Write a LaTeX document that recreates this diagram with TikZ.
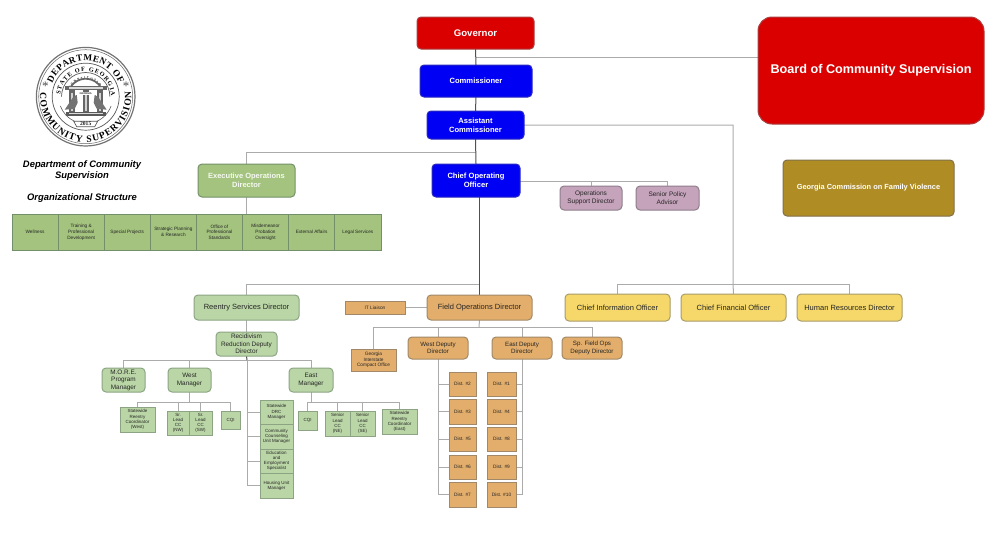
\documentclass[tikz,border=0pt]{standalone}
\usepackage{fontspec}
\setmainfont{Liberation Sans}
\newfontfamily\sealfont{Liberation Serif}
\usetikzlibrary{decorations.text}
\pgfdeclarelayer{wires}
\pgfsetlayers{wires,main}
\definecolor{cred}{HTML}{DA0000}
\definecolor{credb}{HTML}{A84040}
\definecolor{cblue}{HTML}{0000F5}
\definecolor{cblueb}{HTML}{2A2AC0}
\definecolor{cmid}{HTML}{A3C37E}
\definecolor{cmidb}{HTML}{74906A}
\definecolor{clt}{HTML}{BAD6A6}
\definecolor{cltb}{HTML}{8CA484}
\definecolor{cora}{HTML}{E3AE6B}
\definecolor{corab}{HTML}{A08868}
\definecolor{cyel}{HTML}{F5D869}
\definecolor{cyelb}{HTML}{A89C68}
\definecolor{cpur}{HTML}{C5A3BB}
\definecolor{cpurb}{HTML}{8E7E8A}
\definecolor{cgold}{HTML}{B08D24}
\definecolor{cgoldb}{HTML}{80704A}
\definecolor{cline}{HTML}{ABABAB}
\definecolor{cdark}{HTML}{505050}
\newcommand{\bx}[7][]{\node[#1,minimum width={(#4-#2)*1pt},minimum height={(#5-#3)*1pt}] (#6) at ({(#2+#4)/2},{(#3+#5)/2}) {#7};}
\tikzset{
  x=1pt,y=-1pt,
  basebox/.style={draw,line width=1pt,inner sep=0pt,outer sep=0pt,align=center,text=black!85},
  rnd/.style={basebox,rounded corners=4pt},
  redbox/.style={rnd,fill=cred,draw=credb,text=white,font=\fontsize{9.6}{11}\selectfont\bfseries},
  bluebox/.style={rnd,fill=cblue,draw=cblueb,text=white,font=\fontsize{7.6}{9}\selectfont\bfseries},
  execbox/.style={rnd,fill=cmid,draw=cmidb,text=white!90!cmid,font=\fontsize{7.5}{9}\selectfont\bfseries},
  stripbox/.style={basebox,fill=cmid,draw=cmidb,font=\fontsize{4.7}{5.9}\selectfont},
  ltbig/.style={rnd,fill=clt,draw=cltb,font=\fontsize{7.5}{8}\selectfont},
  ltmid/.style={rnd,fill=clt,draw=cltb,font=\fontsize{6.4}{7.5}\selectfont},
  ltsq/.style={basebox,fill=clt,draw=cltb,font=\fontsize{4.5}{5.2}\selectfont},
  orbig/.style={rnd,fill=cora,draw=corab,font=\fontsize{7.5}{8}\selectfont},
  ormid/.style={rnd,fill=cora,draw=corab,font=\fontsize{6.2}{7.5}\selectfont},
  orsq/.style={basebox,fill=cora,draw=corab,font=\fontsize{4.8}{5.4}\selectfont},
  yelbox/.style={rnd,fill=cyel,draw=cyelb,font=\fontsize{7.5}{9}\selectfont},
  purbox/.style={rnd,fill=cpur,draw=cpurb,font=\fontsize{6.5}{7.6}\selectfont},
  goldbox/.style={rnd,fill=cgold,draw=cgoldb,text=white,font=\fontsize{7.4}{9}\selectfont\bfseries},
  titletext/.style={inner sep=0pt,align=center,font=\fontsize{9.4}{11.6}\selectfont\bfseries\itshape},
  conn/.style={draw=cline,line width=1pt},
  spine/.style={draw=cdark,line width=1pt}
}
\begin{document}
\begin{tikzpicture}
\useasboundingbox (0,0) rectangle (1000,544);
% heights of the bus bars
\coordinate (busA) at (476,152);
\coordinate (busB) at (479,284);
\coordinate (busC) at (733,284);
\coordinate (busD) at (247,360);
\coordinate (busW) at (189.5,402);
\coordinate (busE) at (311,402);
\coordinate (busF) at (479,327);
\coordinate (busP) at (591,181);
\coordinate (bendA) at (733,125);
\coordinate (busG) at (476,57);

% boxes
\bx[redbox]{417}{17}{534}{49}{gov}{Governor}
\bx[bluebox]{420}{65}{532}{97}{comm}{Commissioner}
\bx[bluebox]{427}{111}{524}{139}{asst}{Assistant\\Commissioner}
\node[rnd,fill=cred,draw=credb,text=white,font=\fontsize{12.65}{14}\selectfont\bfseries,rounded corners=14pt,minimum width=226pt,minimum height=107pt] (board) at (871,70.5) {Board of Community Supervision};
\bx[execbox]{198}{164}{295}{197}{exec}{Executive Operations\\Director}
\bx[bluebox]{432}{164}{520}{197}{coo}{Chief Operating\\Officer}
\bx[purbox]{560}{186}{622}{210}{ops}{Operations\\Support Director}
\bx[purbox]{636}{186}{699}{210}{pol}{Senior Policy\\Advisor}
\bx[goldbox]{783}{160}{954}{216}{gcfv}{Georgia Commission on Family Violence}

\bx[stripbox]{12}{214}{58.1}{250.5}{s1}{Wellness}
\bx[stripbox]{58.1}{214}{104.2}{250.5}{s2}{Training \&\\Professional\\Development}
\bx[stripbox]{104.2}{214}{150.3}{250.5}{s3}{Special Projects}
\bx[stripbox]{150.3}{214}{196.4}{250.5}{s4}{Strategic Planning\\\& Research}
\bx[stripbox]{196.4}{214}{242.5}{250.5}{s5}{Office of\\Professional\\Standards}
\bx[stripbox]{242.5}{214}{288.6}{250.5}{s6}{Misdemeanor\\Probation\\Oversight}
\bx[stripbox]{288.6}{214}{334.7}{250.5}{s7}{External Affairs}
\bx[stripbox]{334.7}{214}{381}{250.5}{s8}{Legal Services}

\node[titletext] (title1) at (82,170.5) {Department of Community\\Supervision};
\node[titletext] (title2) at (82,198.5) {Organizational Structure};

\bx[ltbig]{194}{295}{299}{320}{reentry}{Reentry Services Director}
\bx[ltmid]{216}{332}{277}{356}{recid}{Recidivism\\Reduction Deputy\\Director}
\bx[ltmid]{102}{368}{145}{392}{more}{M.O.R.E.\\Program\\Manager}
\bx[ltmid]{168}{368}{211}{392}{wmgr}{West\\Manager}
\bx[ltmid]{289}{368}{333}{392}{emgr}{East\\Manager}
\bx[ltsq]{120}{407}{155}{432}{wrc}{Statewide\\Reentry\\Coordinator\\(West)}
\bx[ltsq]{167}{411}{189}{435}{nw}{Sr.\\Lead\\CC\\(NW)}
\bx[ltsq]{189}{411}{212}{435}{sw}{Sr.\\Lead\\CC\\(SW)}
\bx[ltsq]{221}{411}{240}{429}{wcqi}{CQI}
\bx[ltsq]{260}{400}{293}{424}{drc}{Statewide\\DRC\\Manager}
\bx[ltsq]{260}{424}{293}{449}{ccu}{Community\\Counseling\\Unit Manager}
\bx[ltsq]{260}{449}{293}{473}{edu}{Education\\and\\Employment\\Specialist}
\bx[ltsq]{260}{473}{293}{498}{hou}{Housing Unit\\Manager}
\bx[ltsq]{298}{411}{317}{430}{ecqi}{CQI}
\bx[ltsq]{325}{411}{350}{436}{ne}{Senior\\Lead\\CC\\(NE)}
\bx[ltsq]{350}{411}{375}{436}{se}{Senior\\Lead\\CC\\(SE)}
\bx[ltsq]{382}{409}{417}{434}{erc}{Statewide\\Reentry\\Coordinator\\(East)}

\bx[orsq]{345}{301}{405}{314}{it}{IT Liaison}
\bx[orbig]{427}{295}{532}{320}{field}{Field Operations Director}
\bx[orsq]{351}{349}{396}{371}{gicp}{Georgia\\Interstate\\Compact Office}
\bx[ormid]{408}{337}{468}{359}{wdep}{West Deputy\\Director}
\bx[ormid]{492}{337}{552}{359}{edep}{East Deputy\\Director}
\bx[ormid]{562}{337}{622}{359}{spd}{Sp. Field Ops\\Deputy Director}
\bx[orsq]{449}{372}{476}{396}{d2}{Dist. \#2}
\bx[orsq]{449}{399}{476}{424}{d3}{Dist. \#3}
\bx[orsq]{449}{427}{476}{451}{d5}{Dist. \#5}
\bx[orsq]{449}{455}{476}{479}{d6}{Dist. \#6}
\bx[orsq]{449}{482}{476}{507}{d7}{Dist. \#7}
\bx[orsq]{487}{372}{516}{396}{d1}{Dist. \#1}
\bx[orsq]{487}{399}{516}{424}{d4}{Dist. \#4}
\bx[orsq]{487}{427}{516}{451}{d8}{Dist. \#8}
\bx[orsq]{487}{455}{516}{479}{d9}{Dist. \#9}
\bx[orsq]{487}{482}{516}{507}{d10}{Dist. \#10}

\bx[yelbox]{565}{294}{670}{321}{cio}{Chief Information Officer}
\bx[yelbox]{681}{294}{786}{321}{cfo}{Chief Financial Officer}
\bx[yelbox]{797}{294}{902}{321}{hr}{Human Resources Director}

% connectors, drawn beneath the boxes
\begin{pgfonlayer}{wires}
\draw[conn] (busG) -- (board.west |- busG);
\draw[conn] (asst.east |- bendA) -- (bendA) -- (busC) -- (cfo.north);
\draw[conn] (exec.north) -- (exec.north |- busA) -- (busA);
\draw[conn] (exec.south) -- (exec.south |- s6.north);
\draw[conn] (coo.east |- busP) -- (pol.north |- busP) -- (pol.north);
\draw[conn] (ops.north) -- (ops.north |- busP);
\draw[conn] (reentry.north) -- (reentry.north |- busB) -- (busB);
\draw[conn] (cio.north) -- (cio.north |- busC) -- (hr.north |- busC) -- (hr.north);
\draw[conn] (reentry.south) -- (recid.north);
\draw[conn] (more.north) -- (more.north |- busD) -- (emgr.north |- busD) -- (emgr.north);
\draw[conn] (wmgr.north) -- (wmgr.north |- busD);
\draw[conn] (busD) -- (busD |- hou.west) -- (hou.west);
\draw[conn] (busD |- drc.west) -- (drc.west);
\draw[conn] (busD |- ccu.west) -- (ccu.west);
\draw[conn] (busD |- edu.west) -- (edu.west);
\draw[conn] (wmgr.south) -- (busW);
\draw[conn] (wrc.north) -- (wrc.north |- busW) -- (wcqi.north |- busW) -- (wcqi.north);
\draw[conn] (nw.north) -- (nw.north |- busW);
\draw[conn] (sw.north) -- (sw.north |- busW);
\draw[conn] (emgr.south) -- (busE);
\draw[conn] (ecqi.north) -- (ecqi.north |- busE) -- (erc.north |- busE) -- (erc.north);
\draw[conn] (ne.north) -- (ne.north |- busE);
\draw[conn] (se.north) -- (se.north |- busE);
\draw[conn] (it.east) -- (field.west);
\draw[conn] (gicp.north) -- (gicp.north |- busF) -- (spd.north |- busF) -- (spd.north);
\draw[conn] (field.south) -- (busF);
\draw[conn] (wdep.north) -- (wdep.north |- busF);
\draw[conn] (edep.north) -- (edep.north |- busF);
\draw[conn] (wdep.south) |- (d7.west);
\foreach \n in {d2,d3,d5,d6} {\draw[conn] (wdep.south |- \n.west) -- (\n.west);}
\draw[conn] (edep.south) |- (d10.east);
\foreach \n in {d1,d4,d8,d9} {\draw[conn] (edep.south |- \n.east) -- (\n.east);}
\draw[spine] (gov.south) -- (comm.north);
\draw[spine] (comm.south) -- (asst.north);
\draw[spine] (asst.south) -- (coo.north);
\draw[spine] (coo.south -| busB) -- (field.north -| busB);
\draw[spine] (recid.south) -- (busD);
\end{pgfonlayer}

% seal
\begin{scope}[shift={(85.7,96.7)},x=1pt,y=1pt]
  \draw[line width=1.2pt,black!55] (0,0) circle (49.3);
  \draw[line width=0.5pt,black!60] (0,0) circle (47);
  \draw[line width=0.7pt,black!65] (0,0) circle (33.5);
  \path[decorate,decoration={text along path,text align={fit to path},text={|\sealfont\bfseries\fontsize{9.2}{9.2}\selectfont|DEPARTMENT OF}}] (158:36) arc (158:22:36);
  \path[decorate,decoration={text along path,text align={fit to path},text={|\sealfont\bfseries\fontsize{9.6}{9.6}\selectfont|COMMUNITY SUPERVISION}}] (175:45.5) arc (175:367:45.5);
  \path[decorate,decoration={text along path,text align={fit to path},text={|\sealfont\bfseries\fontsize{6.2}{6.2}\selectfont|STATE OF GEORGIA}}] (176:25.4) arc (176:2:25.4);
  \path[decorate,decoration={text along path,text align={fit to path},text={|\fontsize{2.7}{2.7}\selectfont\bfseries|CONSTITUTION}}] (152:18) arc (152:26:18);
  \node[inner sep=0pt,font=\sealfont\fontsize{13}{13}\selectfont,black!70] (star1) at (-40.3,10) {*};
  \node[inner sep=0pt,font=\sealfont\fontsize{13}{13}\selectfont,black!70] (star2) at (40.3,10) {*};
  \draw[black!65,line width=0.7pt] (180:24.2) arc (180:0:24.2);
  \draw[black!65,line width=0.6pt] (200:27) arc (200:340:27);
  % arch
  \draw[black!60,line width=1.8pt] (-15.5,9) arc (150:30:17.9);
  \fill[black!60] (-21,6.5) rectangle (21,10.5);
  \fill[black!15] (-17,7.8) rectangle (17,9.3);
  \foreach \cx in {-14,0,14} {\fill[black!60] ({\cx-3},-15) rectangle ({\cx+3},6.5);\fill[black!18] ({\cx-0.9},-14) rectangle ({\cx+0.9},4);}
  \fill[black!65] (-20,-19) rectangle (20,-15);
  \fill[black!15] (-17,-17.6) rectangle (17,-16.4);
  \fill[black!55] (-13,-1) -- (-9,2) -- (-8,-6) -- (-11,-12) -- (-21,-13) -- cycle;
  \fill[black!55] (13,-1) -- (9,2) -- (8,-6) -- (11,-12) -- (21,-13) -- cycle;
  \fill[white] (-11,4.5) rectangle (11,1.5);
  \node[inner sep=0pt,font=\fontsize{2.6}{2.6}\selectfont\bfseries,black!80] (wis) at (0,3) {GEORGIA};
  \draw[black!65,line width=0.7pt,fill=white] (-12,-24.5) -- (12,-24.5) -- (9,-30) -- (-9,-30) -- cycle;
  \node[inner sep=0pt,font=\sealfont\bfseries\fontsize{5.6}{5.6}\selectfont,black!90] (yr) at (0,-27.2) {2015};
\end{scope}
\end{tikzpicture}
\end{document}
